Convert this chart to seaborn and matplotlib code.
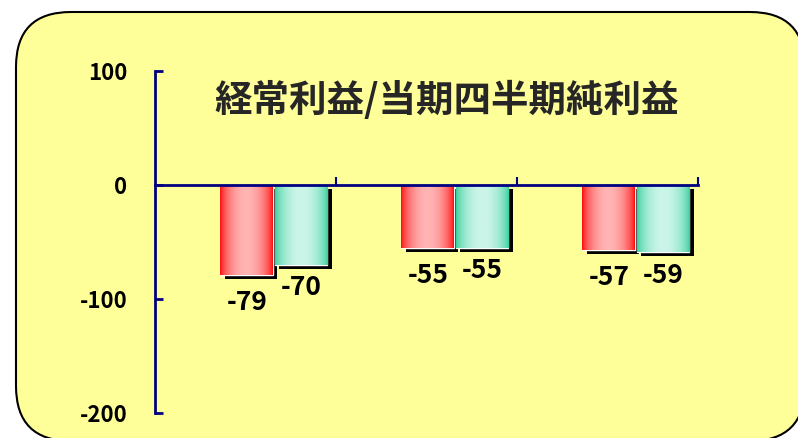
import matplotlib
matplotlib.use('Agg')
import numpy as np
import pandas as pd
import matplotlib.pyplot as plt
import matplotlib.patheffects as pe
import seaborn as sns
from matplotlib.patches import FancyBboxPatch
from matplotlib.transforms import IdentityTransform
from matplotlib.colors import LinearSegmentedColormap

# データ（単位：百万円）
periods = ['第1期', '第2期', '第3期']
series_names = ['経常利益', '当期四半期純利益']
keijo_rieki = [-79, -55, -57]
junrieki = [-70, -55, -59]
yticks = [100, 0, -100, -200]
title = '経常利益/当期四半期純利益'

df = pd.DataFrame({
    '期間': periods * 2,
    '区分': [series_names[0]] * len(periods) + [series_names[1]] * len(periods),
    '値': keijo_rieki + junrieki,
})

sns.set_style('white')
plt.rcParams['font.family'] = ['Noto Sans CJK JP', 'DejaVu Sans']
plt.rcParams['axes.unicode_minus'] = False

navy = '#000080'
W, H = 798, 438
fig = plt.figure(figsize=(W / 100, H / 100), dpi=100)
fig.patch.set_facecolor('white')

# 背景の角丸パネル
panel = FancyBboxPatch((16, -3), 789, 429, boxstyle='round,pad=0,rounding_size=55',
                       transform=IdentityTransform(), facecolor='#FFFF99',
                       edgecolor='black', linewidth=1.5, zorder=-1)
fig.add_artist(panel)

ax = fig.add_axes([155 / W, 1 - 413 / H, 543 / W, 342 / H])
ax.set_facecolor('none')

sns.barplot(data=df, x='期間', y='値', hue='区分', palette=['#FF0000', '#33CC99'],
            width=0.6, gap=0.03, legend=False, ax=ax, zorder=1)

# グラデーションと影
cmaps = [LinearSegmentedColormap.from_list('r', ['#FF0000', '#FFB4B4']),
         LinearSegmentedColormap.from_list('g', ['#2ECC96', '#CCF5EA'])]
grad = np.sin(np.pi * np.linspace(0, 1, 256)) ** 0.6
label_off = [-20, -16.5]

for cont, cmap, off in zip(ax.containers, cmaps, label_off):
    for bar, val in zip(cont, cont.datavalues):
        bar.set_path_effects([pe.SimplePatchShadow(offset=(3, -3), shadow_rgbFace='black', alpha=1),
                              pe.Normal()])
        x0, y0 = bar.get_x(), bar.get_y()
        x1, y1 = x0 + bar.get_width(), y0 + bar.get_height()
        im = ax.imshow(grad[np.newaxis, :], extent=[x0, x1, min(y0, y1), max(y0, y1)],
                       aspect='auto', cmap=cmap, zorder=1.5, interpolation='bilinear')
        im.set_clip_path(bar)
        ax.annotate(f'{val:.0f}', xy=(x0 + bar.get_width() / 2, val), xytext=(0, off),
                    textcoords='offset points', ha='center', va='center',
                    fontsize=19, fontweight='bold', color='black')

ax.set_xlim(-0.657, 2.343)
ax.set_ylim(-200, 100)

for s in ['top', 'right']:
    ax.spines[s].set_visible(False)
ax.spines['left'].set(color=navy, linewidth=2)
ax.spines['bottom'].set_position(('data', 0))
ax.spines['bottom'].set(color=navy, linewidth=2, zorder=3)

ax.set_xticks([0.343, 1.343, 2.343])
ax.set_xticklabels([])
ax.tick_params(axis='x', bottom=True, direction='in', length=6, width=1.5, color=navy)
ax.set_yticks(yticks)
ax.tick_params(axis='y', left=True, direction='in', length=6, width=2, color=navy,
               labelcolor='black', labelsize=16, pad=20)
for lbl in ax.get_yticklabels():
    lbl.set_fontweight('bold')
ax.set_xlabel('')
ax.set_ylabel('')

fig.text(447 / W, 1 - 100 / H, title, fontsize=27, fontweight='bold',
         family=['Noto Sans CJK JP', 'DejaVu Sans'], ha='center', va='center')

fig.savefig('out.png', dpi=100, facecolor='white')
